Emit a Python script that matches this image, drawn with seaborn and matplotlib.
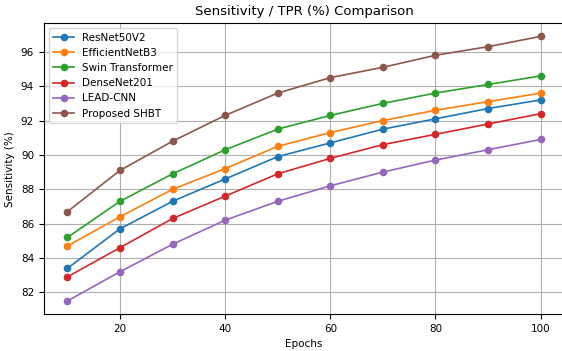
import matplotlib
matplotlib.use("Agg")
import matplotlib.pyplot as plt
import pandas as pd
import seaborn as sns

EPOCHS = [10, 20, 30, 40, 50, 60, 70, 80, 90, 100]
MODELS = ["ResNet50V2", "EfficientNetB3", "Swin Transformer", "DenseNet201", "LEAD-CNN", "Proposed SHBT"]
RESNET50V2 = [83.4, 85.7, 87.3, 88.6, 89.9, 90.7, 91.5, 92.1, 92.7, 93.2]
EFFICIENTNETB3 = [84.7, 86.4, 88.0, 89.2, 90.5, 91.3, 92.0, 92.6, 93.1, 93.6]
SWIN = [85.2, 87.3, 88.9, 90.3, 91.5, 92.3, 93.0, 93.6, 94.1, 94.6]
DENSENET201 = [82.9, 84.6, 86.3, 87.6, 88.9, 89.8, 90.6, 91.2, 91.8, 92.4]
LEAD_CNN = [81.5, 83.2, 84.8, 86.2, 87.3, 88.2, 89.0, 89.7, 90.3, 90.9]
SHBT = [86.7, 89.1, 90.8, 92.3, 93.6, 94.5, 95.1, 95.8, 96.3, 96.9]

series = [RESNET50V2, EFFICIENTNETB3, SWIN, DENSENET201, LEAD_CNN, SHBT]
rows = []
for model, values in zip(MODELS, series):
    for epoch, value in zip(EPOCHS, values):
        rows.append({"Epochs": epoch, "Sensitivity": value, "Model": model})
df = pd.DataFrame(rows)

fig, ax = plt.subplots(figsize=(5.62, 3.51), dpi=100)
sns.lineplot(
    data=df, x="Epochs", y="Sensitivity", hue="Model", hue_order=MODELS,
    palette="tab10", marker="o", markersize=5.5, markeredgewidth=0,
    linewidth=1.2, ax=ax,
)
ax.grid(True, color="#b0b0b0", linewidth=0.8)
ax.set_title("Sensitivity / TPR (%) Comparison", fontsize=9.5)
ax.set_xlabel("Epochs", fontsize=7.5)
ax.set_ylabel("Sensitivity (%)", fontsize=7.5)
ax.tick_params(labelsize=7.5)
ax.set_xticks([20, 40, 60, 80, 100])
ax.set_yticks([82, 84, 86, 88, 90, 92, 94, 96])
ax.legend(loc="upper left", fontsize=7.5, title=None)
# the source image crops off the right spine
fig.subplots_adjust(left=0.078, right=1.004, top=0.934, bottom=0.105)
fig.savefig("out.png", dpi=100)
